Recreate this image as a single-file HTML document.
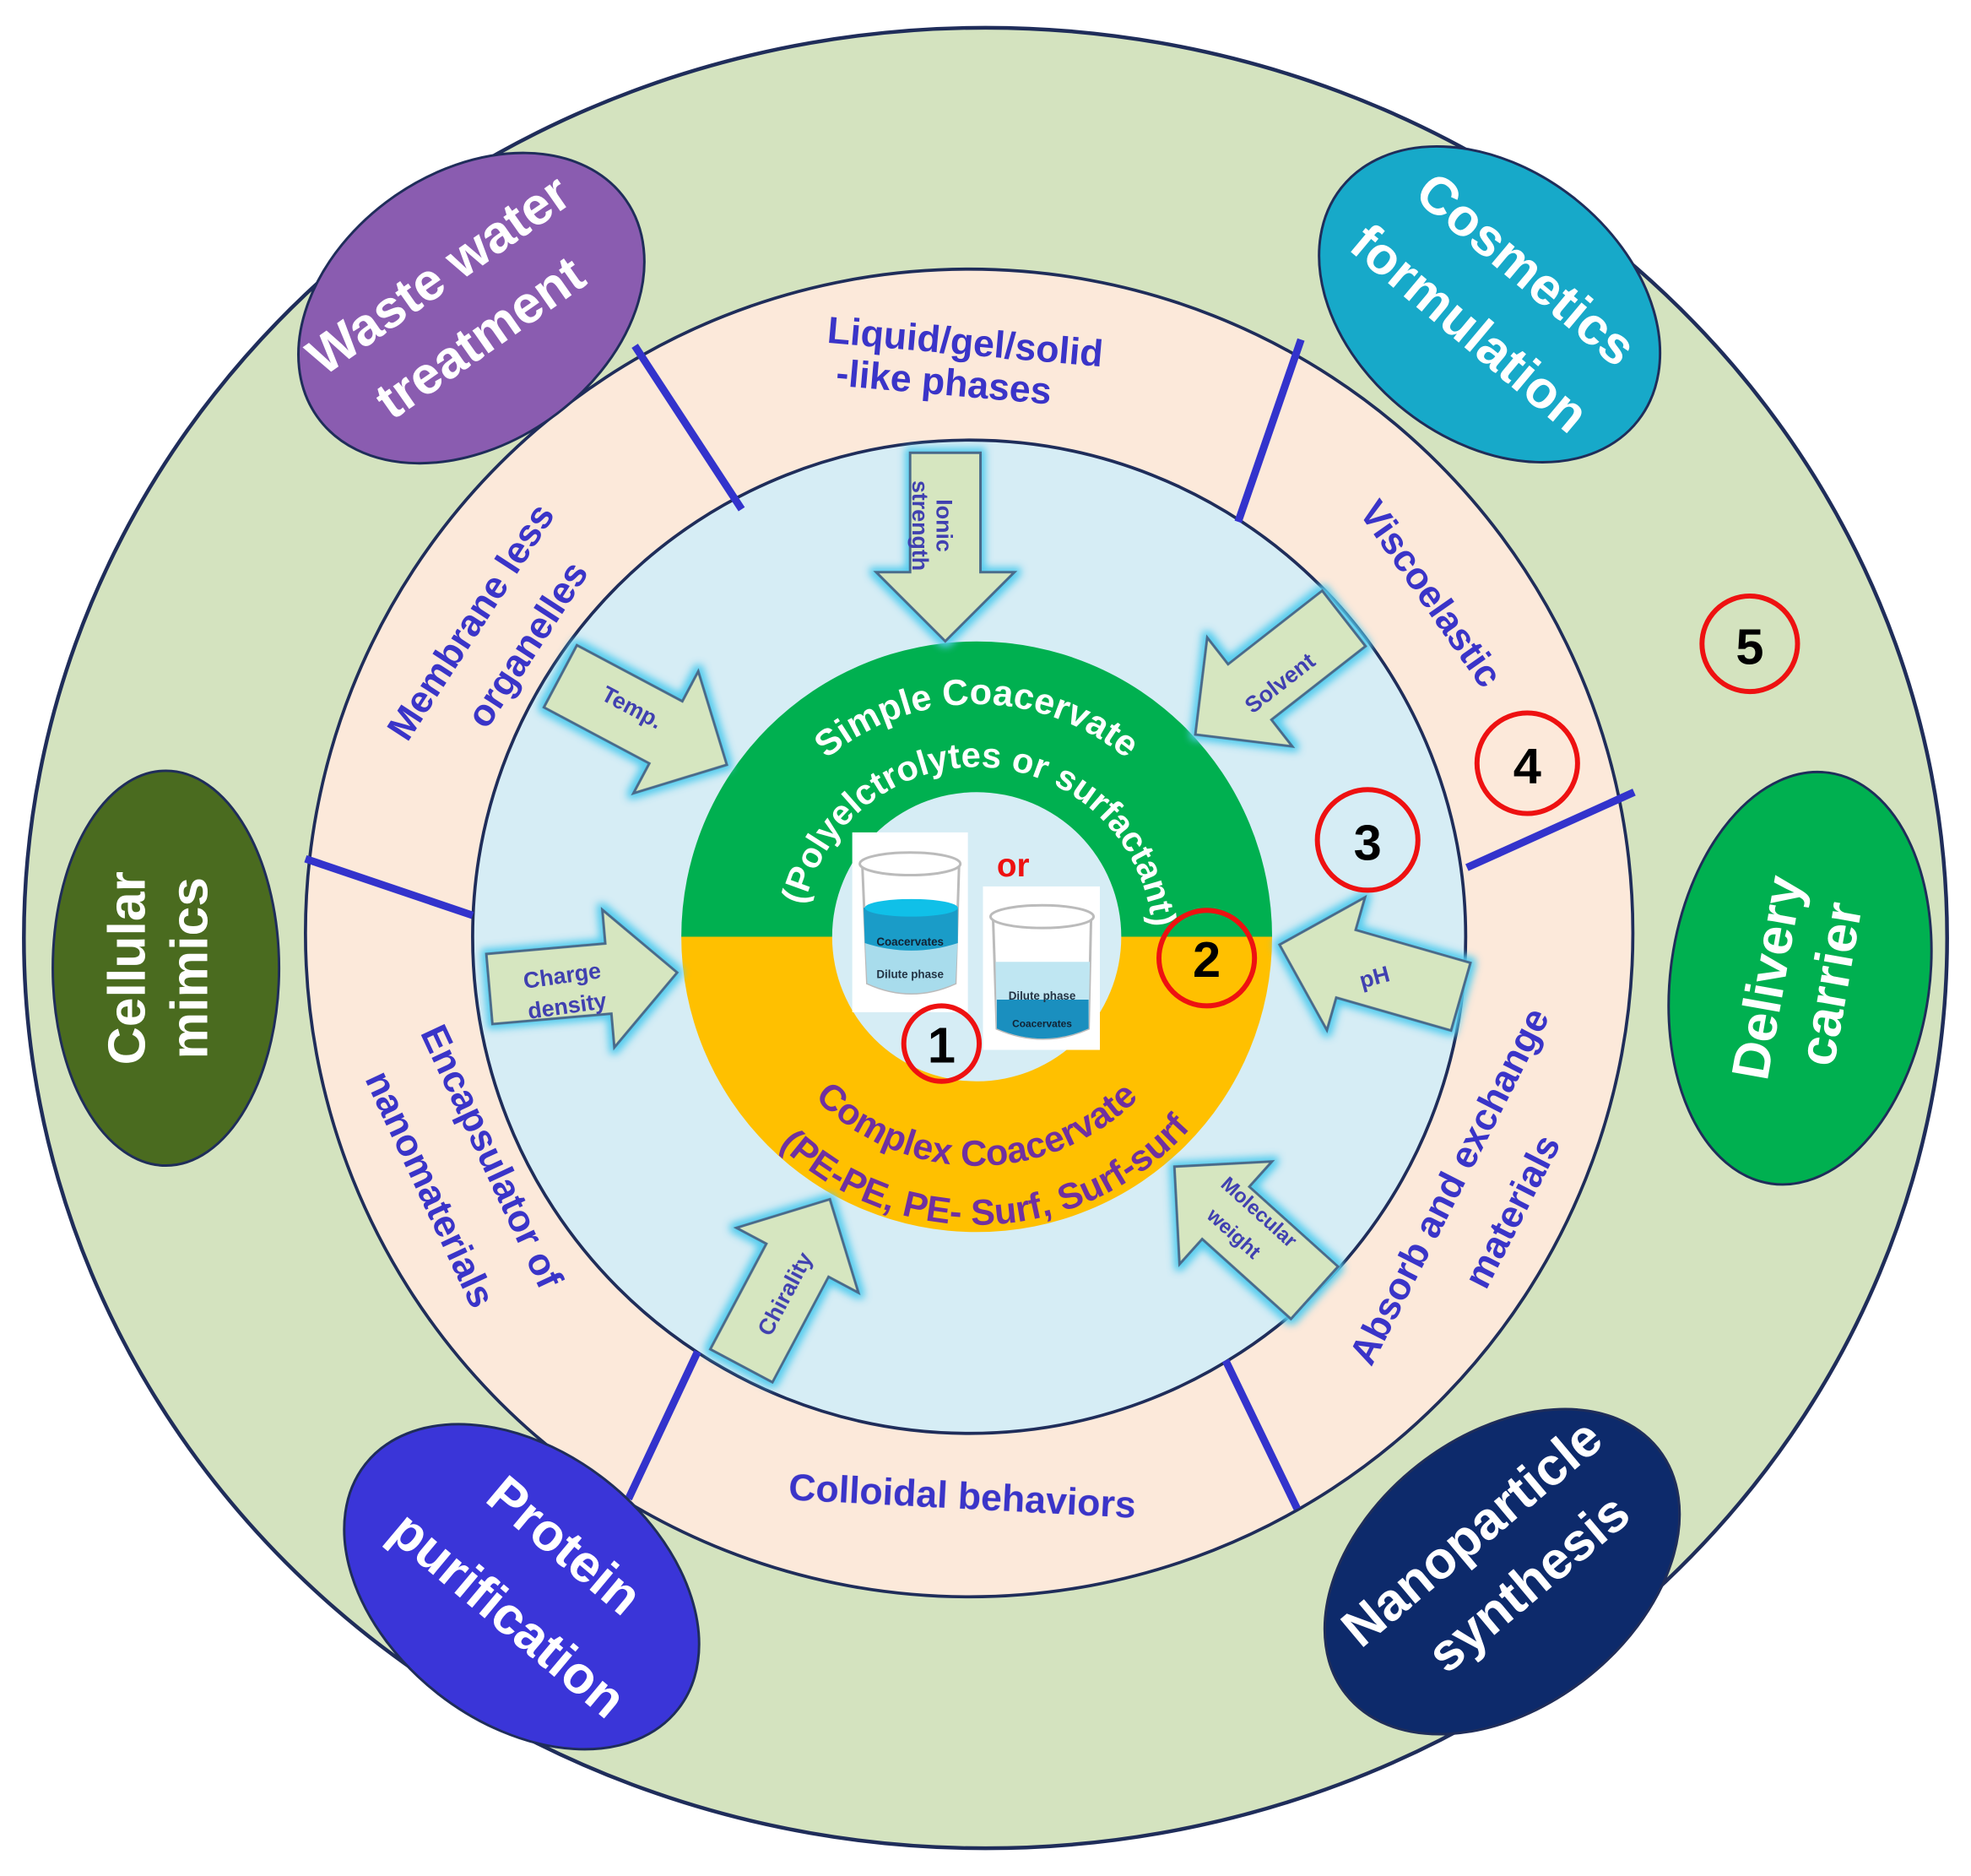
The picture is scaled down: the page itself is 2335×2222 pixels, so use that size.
<!DOCTYPE html>
<html><head><meta charset="utf-8"><style>
html,body{margin:0;padding:0;background:#fff;}
svg{display:block;}
text{font-family:"Liberation Sans",sans-serif;font-weight:bold;}
</style></head><body>
<svg width="2335" height="2222" viewBox="0 0 1568 1492" xmlns="http://www.w3.org/2000/svg">
<defs>
<filter id="glow" x="-30%" y="-30%" width="160%" height="160%">
<feMorphology in="SourceAlpha" operator="dilate" radius="3" result="d"/>
<feGaussianBlur in="d" stdDeviation="3" result="b"/>
<feFlood flood-color="#55ccee"/><feComposite in2="b" operator="in" result="g"/>
<feMerge><feMergeNode in="g"/><feMergeNode in="SourceGraphic"/></feMerge>
</filter>
<path id="ar" d="M-75,-28 L20,-28 L20,-55 L75,0 L20,55 L20,28 L-75,28 Z"/>
<path id="t1" d="M 592,745 A 185 185 0 0 1 962,745"/>
<path id="t2" d="M 637,750 A 140 140 0 0 1 917,750"/>
<path id="b1" d="M 621,838 A 181 181 0 0 0 933,838"/>
<path id="b2" d="M 583,865 A 227 227 0 0 0 971,865"/>
</defs>
<rect width="1568" height="1492" fill="#fff"/>
<ellipse cx="784" cy="746" rx="765" ry="724" fill="#d4e3bf" stroke="#1f2d5a" stroke-width="3"/>
<circle cx="771" cy="742" r="528" fill="#fce9da" stroke="#1f2d5a" stroke-width="2.5"/>
<circle cx="771" cy="745" r="395" fill="#d6edf5" stroke="#1f2d5a" stroke-width="2.5"/>
<g stroke="#3333cc" stroke-width="6">
<line x1="505" y1="275" x2="590" y2="405"/>
<line x1="1035" y1="270" x2="985" y2="415"/>
<line x1="1167" y1="690" x2="1300" y2="630"/>
<line x1="975" y1="1082" x2="1032" y2="1200"/>
<line x1="555" y1="1075" x2="500" y2="1192"/>
<line x1="243" y1="683" x2="376" y2="728"/>
</g>
<path d="M542,745 A235 235 0 0 1 1012,745 Z" fill="#00b050"/>
<path d="M542,745 A235 235 0 0 0 1012,745 Z" fill="#ffc000"/>
<circle cx="777" cy="745" r="115" fill="#d6edf5"/>
<text font-size="29" fill="#fff"><textPath href="#t1" startOffset="50%" text-anchor="middle">Simple Coacervate</textPath></text>
<text font-size="28" fill="#fff"><textPath href="#t2" startOffset="52%" text-anchor="middle">(Polyelctrolytes or surfactant)</textPath></text>
<text font-size="29" fill="#7030a0"><textPath href="#b1" startOffset="50%" text-anchor="middle">Complex Coacervate</textPath></text>
<text font-size="29" fill="#7030a0"><textPath href="#b2" startOffset="52%" text-anchor="middle">(PE-PE, PE- Surf, Surf-surf</textPath></text>
<rect x="678" y="662" width="92" height="143" fill="#fff"/>
<path d="M686,688 L690,782 Q725,798 760,782 L763,688" fill="#fff" stroke="#bbb" stroke-width="2"/>
<path d="M688,745 L690,782 Q725,798 760,782 L762,745 Z" fill="#a8dcec"/>
<path d="M687,722 Q725,712 762,722 L762,750 Q725,762 688,750 Z" fill="#1a9cc8"/>
<ellipse cx="725" cy="722" rx="37" ry="7" fill="#10c0e8"/>
<ellipse cx="724" cy="687" rx="40" ry="9" fill="#fff" stroke="#bbb" stroke-width="2"/>
<text x="724" y="752" font-size="9" fill="#123" text-anchor="middle">Coacervates</text>
<text x="724" y="778" font-size="9" fill="#234" text-anchor="middle">Dilute phase</text>
<rect x="782" y="705" width="93" height="130" fill="#fff"/>
<path d="M790,730 L793,818 Q830,834 866,818 L868,730" fill="#fff" stroke="#bbb" stroke-width="2"/>
<path d="M792,765 L793,818 Q830,834 866,818 L867,765 Z" fill="#bfe6f2"/>
<path d="M793,795 L866,795 L866,818 Q830,834 793,818 Z" fill="#1a8fbf"/>
<ellipse cx="829" cy="729" rx="41" ry="9" fill="#fff" stroke="#bbb" stroke-width="2"/>
<text x="829" y="795" font-size="9" fill="#234" text-anchor="middle">Dilute phase</text>
<text x="829" y="817" font-size="8" fill="#123" text-anchor="middle">Coacervates</text>
<text x="806" y="697" font-size="26" fill="#ee1111" text-anchor="middle">or</text>
<g fill="#d6e6c0" stroke="#4a6a8a" stroke-width="2" filter="url(#glow)">
<use href="#ar" transform="translate(752,435) rotate(90)"/>
<use href="#ar" transform="translate(512,573) rotate(28)"/>
<use href="#ar" transform="translate(1010,538) rotate(142)"/>
<use href="#ar" transform="translate(464,780) rotate(-5)"/>
<use href="#ar" transform="translate(1090,772) rotate(196)"/>
<use href="#ar" transform="translate(625,1020) rotate(-62)"/>
<use href="#ar" transform="translate(990,978) rotate(222)"/>
</g>
<g fill="#4040b0" font-size="18">
<text transform="translate(745,418) rotate(90)" text-anchor="middle">Ionic</text>
<text transform="translate(726,418) rotate(90)" text-anchor="middle">strength</text>
<text transform="translate(500,568) rotate(28)" text-anchor="middle">Temp.</text>
<text transform="translate(1022,548) rotate(-38)" text-anchor="middle">Solvent</text>
<text transform="translate(448,782) rotate(-8)" text-anchor="middle">Charge</text>
<text transform="translate(452,806) rotate(-8)" text-anchor="middle">density</text>
<text transform="translate(1095,783) rotate(-15)" text-anchor="middle">pH</text>
<text transform="translate(630,1032) rotate(-62)" text-anchor="middle">Chirality</text>
<text transform="translate(998,968) rotate(42)" text-anchor="middle" font-size="16">Molecular</text>
<text transform="translate(978,985) rotate(42)" text-anchor="middle" font-size="16">weight</text>
</g>
<g fill="#3a34c8" font-size="30" text-anchor="middle">
<text transform="translate(767,282) rotate(5)">Liquid/gel/solid</text>
<text transform="translate(750,314) rotate(5)">-like phases</text>
<text transform="translate(1130,478) rotate(55)">Viscoelastic</text>
<text transform="translate(1162,948) rotate(-63)">Absorb and exchange</text>
<text transform="translate(1212,968) rotate(-63)">materials</text>
<text transform="translate(765,1200) rotate(3)">Colloidal behaviors</text>
<text transform="translate(382,924) rotate(65)">Encapsulator of</text>
<text transform="translate(333,950) rotate(65)">nanomaterials</text>
<text transform="translate(383,500) rotate(-57)">Membrane less</text>
<text transform="translate(428,518) rotate(-57)">organelles</text>
</g>
<g stroke="#1f2d5a" stroke-width="2">
<ellipse cx="375" cy="245" rx="150" ry="108" transform="rotate(-35 375 245)" fill="#8a5cb0"/>
<ellipse cx="1185" cy="242" rx="150" ry="108" transform="rotate(38 1185 242)" fill="#17a9c9"/>
<ellipse cx="132" cy="770" rx="90" ry="157" fill="#4a6b1f"/>
<ellipse cx="1432" cy="778" rx="103" ry="165" transform="rotate(8 1432 778)" fill="#00b050"/>
<ellipse cx="415" cy="1262" rx="158" ry="108" transform="rotate(38 415 1262)" fill="#3a35d8"/>
<ellipse cx="1195" cy="1250" rx="158" ry="108" transform="rotate(-38 1195 1250)" fill="#0d2a6b"/>
</g>
<g fill="#fff" font-size="42" text-anchor="middle">
<text transform="translate(357,230) rotate(-35)">Waste water</text>
<text transform="translate(390,280) rotate(-35)">treatment</text>
<text transform="translate(1205,225) rotate(40)">Cosmetics</text>
<text transform="translate(1160,272) rotate(40)">formulation</text>
<text transform="translate(115,770) rotate(-90)">Cellular</text>
<text transform="translate(165,770) rotate(-90)">mimics</text>
<text transform="translate(1420,780) rotate(-80)">Delivery</text>
<text transform="translate(1470,785) rotate(-80)">carrier</text>
<text transform="translate(440,1240) rotate(40)">Protein</text>
<text transform="translate(395,1295) rotate(40)">purification</text>
<text transform="translate(1180,1230) rotate(-40)">Nanoparticle</text>
<text transform="translate(1225,1270) rotate(-40)">synthesis</text>
</g>
<g fill="none" stroke="#ee1111" stroke-width="4">
<circle cx="749" cy="830" r="30"/>
<circle cx="960" cy="762" r="38"/>
<circle cx="1088" cy="668" r="40"/>
<circle cx="1215" cy="607" r="40"/>
<circle cx="1392" cy="512" r="38"/>
</g>
<g fill="#000" font-size="40" text-anchor="middle">
<text x="749" y="845">1</text>
<text x="960" y="777">2</text>
<text x="1088" y="684">3</text>
<text x="1215" y="623">4</text>
<text x="1392" y="528">5</text>
</g>
</svg>
</body></html>
